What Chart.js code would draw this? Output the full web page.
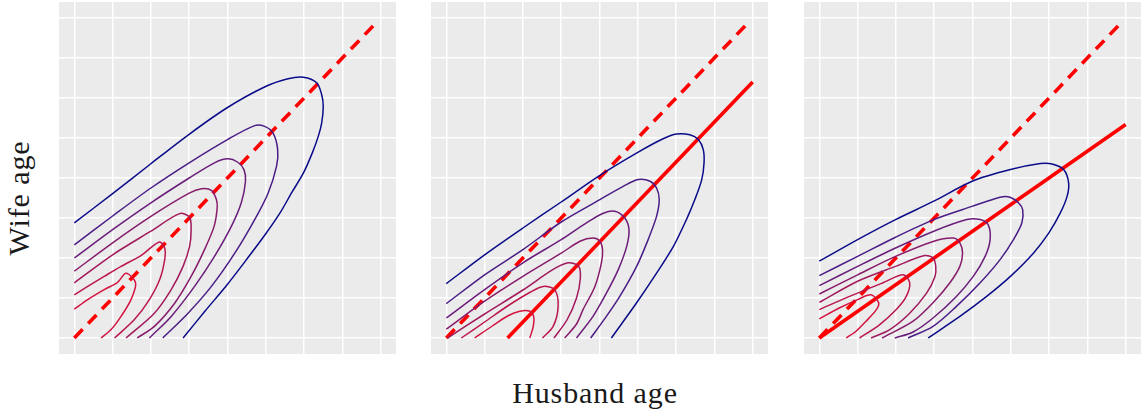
<!DOCTYPE html>
<html>
<head>
<meta charset="utf-8">
<script src="https://cdn.jsdelivr.net/npm/chart.js@4"></script>
<style>
  html, body { margin: 0; padding: 0; background: #fff; }
  #wrap { position: relative; width: 1144px; height: 410px; overflow: hidden; }
  canvas { position: absolute; top: 2px; }
  .axis-title {
    position: absolute;
    font-family: "Liberation Serif", "DejaVu Serif", serif;
    font-size: 30px;
    line-height: 30px;
    letter-spacing: 0.9px;
    color: #1a1a1a;
    white-space: nowrap;
    transform: translate(-50%, -50%);
  }
</style>
</head>
<body>
<div id="wrap">
  <canvas id="panel1" width="337" height="352" style="left:59px"></canvas>
  <canvas id="panel2" width="337" height="352" style="left:431px"></canvas>
  <canvas id="panel3" width="337" height="352" style="left:804px"></canvas>
  <div class="axis-title" style="left:595px; top:393px;">Husband age</div>
  <div class="axis-title" style="left:19px; top:198px; transform: translate(-50%, -50%) rotate(-90deg);">Wife age</div>
</div>
<script>
// density contour levels, outermost (lowest) first
const levelColours = ["#0b0b8a", "#4a1c86", "#6a1d7a", "#871b6b", "#a2195c", "#bb164d", "#d41440"];

// axis range and grid breaks (ages)
const ageMin = 18;
const ageMax = 62;
const ageStep = 5;

// reference lines
const equalAges = [[20, 20], [59.4, 59.4]];
const fitPanel2 = [[28, 20], [60, 52]];
const fitPanel3 = [[20, 20], [60, 46.7]];

// panel 1 contours [husband, wife]
const p1c1 = [[20,34.4],[25,38.05],[29.95,41.75],[34.9,45.4],[39.9,48.75],[44.9,51.4],[47.9,52.4],[49.9,52.6],[51.65,51.9],[52.3,50.4],[52.5,48.95],[52.3,46.9],[51.85,45.2],[51.1,43.2],[49.9,40.6],[48.4,38.2],[46.9,35.7],[44.9,32.9],[42.4,29.7],[39.9,26.6],[37.1,23.4],[34.2,20]];
const p1c2 = [[20,31.65],[25,35.25],[30,38.75],[35,41.9],[40,44.8],[43.55,46.55],[44.85,46.45],[45.95,45.6],[46.55,43.55],[46.4,41.45],[45.3,38.1],[43.55,34.8],[40.95,30.6],[37.9,26.45],[34.85,23.1],[31.55,20]];
const p1c3 = [[20,30],[25,33.55],[30,36.9],[35,40],[38.3,41.9],[40.05,42.4],[41.3,42],[42.15,41.05],[42.35,39.6],[41.8,36.9],[40.5,33.95],[38.3,30.2],[35.7,26.45],[32.65,22.7],[29.8,20]];
const p1c4 = [[20,28.35],[25,31.9],[30,35.2],[35,38.1],[36.6,38.65],[37.9,38.45],[38.55,37.3],[38.65,36.25],[38.25,33.95],[37,31.05],[35.25,27.7],[33.1,24.35],[30.45,21.45],[28.2,20]];
const p1c5 = [[20,26.9],[25,30.4],[30,33.35],[33.75,35.55],[35.05,35.1],[35.25,33.55],[35.05,31.45],[34.2,28.95],[32.65,26.05],[30.45,23.1],[26.75,20]];
const p1c6 = [[20,25.4],[21.75,26.45],[23.9,27.7],[26.1,28.95],[28.7,30.3],[31.1,32],[31.8,31.25],[31.8,29.8],[31.15,27.3],[29.8,24.8],[27.85,22.3],[25.25,20]];
const p1c7 = [[20,23.6],[21.75,24.8],[23.9,26.05],[25.65,26.95],[26.75,28.1],[28,26.9],[27.4,24.8],[26.1,22.7],[24.8,21.05],[23.5,20]];

// panel 2 contours
const p2c1 = [[20,26.8],[25,30.4],[30,33.75],[35,37],[40,40.3],[45,43.2],[48.3,44.9],[50.05,45.5],[51.8,45.4],[52.9,44.8],[53.55,43.55],[53.65,41.9],[53.35,39.8],[52.45,37.3],[51.35,34.8],[49.65,31.45],[47.45,28.1],[44.85,24.4],[41.55,20]];
const p2c2 = [[20,24.3],[25,27.9],[30,31.05],[35,34.5],[40.05,37.3],[43.1,38.95],[45.05,39.8],[46.6,39.6],[47.45,38.75],[47.8,37.3],[47.45,35.2],[46.35,32.3],[44.85,28.95],[42.65,25.2],[40.9,22.7],[38.85,20]];
const p2c3 = [[20,22.5],[25,26.05],[30,29.4],[35,32.3],[38.3,34.4],[40.5,35.6],[42,35.85],[43.3,35],[43.85,33.55],[43.55,31.45],[42.45,28.55],[40.9,25.6],[39.15,22.7],[37,20]];
const p2c4 = [[20,21.1],[25,24.6],[30,27.7],[35,30.6],[37.45,32.1],[39.15,32.5],[40.05,32.1],[40.4,31.05],[40.25,29.4],[39.4,26.45],[37.85,23.55],[37,21.75],[35.45,20]];
const p2c5 = [[20.15,20],[25,23],[30,26],[34,28.6],[35.9,29.4],[37.25,29],[37.5,27.5],[37,25],[35.75,22.25],[34.05,20]];
const p2c6 = [[21.95,20],[25,22],[28,24],[31,25.75],[32.65,26.45],[34.15,26.05],[34.6,23.95],[33.95,21.45],[32.55,20]];
const p2c7 = [[23.7,20],[26,21.5],[28,22.75],[29.6,23.35],[30.9,23.35],[31.4,22.7],[31.35,21.45],[30.9,20]];

// panel 3 contours
const p3c1 = [[20,29.6],[25,32.3],[29.95,34.8],[34.95,37.1],[39.95,39.6],[44.95,41.05],[48.85,41.8],[50.4,41.75],[51.9,41.05],[52.55,39.4],[52.35,37.7],[51.45,35.6],[49.95,33.1],[47.95,30.6],[44.95,27.7],[41.85,25.2],[38.35,22.7],[34.2,20]];
const p3c2 = [[20,27.8],[25,30.2],[29.95,32.6],[34.95,34.8],[39.95,36.45],[43.6,37.6],[44.9,37.6],[46,36.9],[46.55,36.05],[46.45,34.4],[45.35,32.3],[43.6,29.8],[41,26.9],[37.9,23.95],[34.85,21.45],[31.6,20]];
const p3c3 = [[20,26.55],[25,28.95],[29.95,31.25],[34.95,33.35],[39.25,34.8],[41,34.8],[42.05,34.15],[42.3,32.3],[41.65,30.2],[40.1,27.7],[37.9,25.2],[34.85,22.5],[32.25,20.75],[29.85,20]];
const p3c4 = [[20,25.5],[25,27.9],[29.95,30.2],[34.95,32.1],[37.5,32.5],[38.35,31.9],[38.7,30.6],[38.35,28.95],[37.05,26.9],[34.85,24.4],[32.25,22.1],[28.2,20]];
const p3c5 = [[20,24.45],[25,27.1],[29.95,28.95],[33.75,30.3],[34.85,30],[35.2,28.95],[35.1,27.7],[34,25.6],[31.8,23.1],[29.2,21.05],[26.75,20]];
const p3c6 = [[20,23.55],[23.95,25.2],[28.3,26.9],[30.95,27.9],[31.8,26.9],[31.35,25.2],[30.05,23.55],[27.85,21.65],[25.25,20]];
const p3c7 = [[20,22.4],[22.6,23.75],[25,24.8],[26.75,25.4],[27.75,24.4],[27.45,23.55],[26.1,22.1],[24.8,20.85],[23.5,20]];

const toXY = pts => pts.map(([x, y]) => ({ x, y }));

// grey panel background like ggplot's theme_grey
const panelBg = {
  id: "panelBg",
  beforeDraw(chart) {
    const { ctx, chartArea: a } = chart;
    ctx.save();
    ctx.fillStyle = "#ebebeb";
    ctx.fillRect(a.left, a.top, a.right - a.left, a.bottom - a.top);
    ctx.restore();
  }
};

const ageAxis = (horizontal) => ({
  type: "linear",
  min: ageMin,
  max: ageMax,
  ticks: { display: false, stepSize: ageStep, includeBounds: false },
  grid: { color: "#ffffff", lineWidth: 1.5, drawTicks: false },
  border: { display: false },
  afterFit(scale) {
    if (horizontal) scale.height = 0; else scale.width = 0;
  }
});

const drawPanel = (id, contours, fitLine) => {
  const datasets = contours.map((c, i) => ({
    data: toXY(c),
    showLine: true,
    borderColor: levelColours[i],
    borderWidth: 1.5,
    pointRadius: 0,
    tension: 0.3,
    fill: false
  }));
  if (fitLine) {
    datasets.push({
      data: toXY(fitLine),
      showLine: true,
      borderColor: "#ff0000",
      borderWidth: 3.6,
      pointRadius: 0,
      borderCapStyle: "butt"
    });
  }
  datasets.push({
    data: toXY(equalAges),
    showLine: true,
    borderColor: "#ff0000",
    borderWidth: 3.6,
    borderDash: [12, 8],
    pointRadius: 0,
    borderCapStyle: "butt"
  });

  new Chart(document.getElementById(id).getContext("2d"), {
    type: "scatter",
    data: { datasets },
    options: {
      responsive: false,
      animation: false,
      events: [],
      layout: { padding: 0 },
      plugins: { legend: { display: false }, tooltip: { enabled: false } },
      scales: { x: ageAxis(true), y: ageAxis(false) }
    },
    plugins: [panelBg]
  });
};

drawPanel("panel1", [p1c1, p1c2, p1c3, p1c4, p1c5, p1c6, p1c7], null);
drawPanel("panel2", [p2c1, p2c2, p2c3, p2c4, p2c5, p2c6, p2c7], fitPanel2);
drawPanel("panel3", [p3c1, p3c2, p3c3, p3c4, p3c5, p3c6, p3c7], fitPanel3);
</script>
</body>
</html>
